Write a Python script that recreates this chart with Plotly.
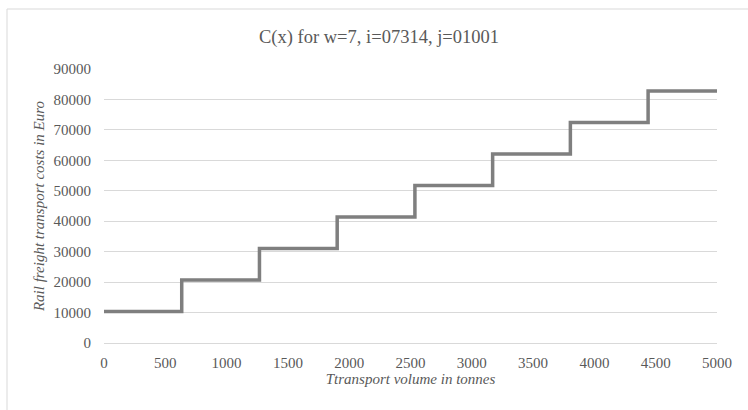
import plotly.graph_objects as go

# Step function data: transport volume (tonnes) and rail freight costs (Euro)
volumes = [0, 634, 1268, 1902, 2536, 3170, 3804, 4438, 5000]
costs = [10350, 20700, 31050, 41400, 51750, 62100, 72450, 82800, 82800]

x_ticks = [0, 500, 1000, 1500, 2000, 2500, 3000, 3500, 4000, 4500, 5000]
y_ticks = [0, 10000, 20000, 30000, 40000, 50000, 60000, 70000, 80000, 90000]

font_family = "Times New Roman, Liberation Serif, DejaVu Serif, serif"
text_color = "#595959"

fig = go.Figure()
fig.add_trace(go.Scatter(
    x=volumes, y=costs, mode="lines",
    line=dict(shape="hv", color="#7f7f7f", width=3.5),
    showlegend=False, hoverinfo="x+y",
))

fig.update_layout(
    width=748, height=410,
    margin=dict(l=104, r=31, t=69, b=67),
    paper_bgcolor="white", plot_bgcolor="white",
    font=dict(family=font_family, color=text_color, size=15),
    title=dict(text="C(x) for w=7, i=07314, j=01001", x=379/748, xanchor="center",
               y=1 - 37/410, yanchor="middle",
               font=dict(size=18.5, color=text_color, family=font_family)),
)
fig.update_xaxes(
    range=[0, 5000], tickvals=x_ticks, ticktext=[str(v) for v in x_ticks],
    showgrid=False, zeroline=False, showline=False,
    ticks="", ticklabelstandoff=9,
    tickfont=dict(size=15, color=text_color, family=font_family),
    title=dict(text="<i>Ttransport volume in tonnes</i>", standoff=1,
               font=dict(size=15, color=text_color, family=font_family)),
)
fig.update_yaxes(
    range=[0, 90000], tickvals=y_ticks, ticktext=[str(v) for v in y_ticks],
    showgrid=True, gridcolor="#d9d9d9", gridwidth=1,
    zeroline=True, zerolinecolor="#d9d9d9", zerolinewidth=1, showline=False,
    ticks="", ticklabelstandoff=12,
    tickfont=dict(size=15, color=text_color, family=font_family),
    title=dict(text="<i>Rail freight transport costs in Euro</i>", standoff=5,
               font=dict(size=15, color=text_color, family=font_family)),
)

# Outer chart border (light gray), extending past the right and bottom edges
fig.add_shape(type="rect", xref="paper", yref="paper",
              x0=(7 - 104) / 613, x1=(760 - 104) / 613,
              y0=(343 - 420) / 274, y1=(343 - 9) / 274,
              line=dict(color="#d9d9d9", width=1), fillcolor="rgba(0,0,0,0)",
              layer="below")

fig.write_html("out.html")
